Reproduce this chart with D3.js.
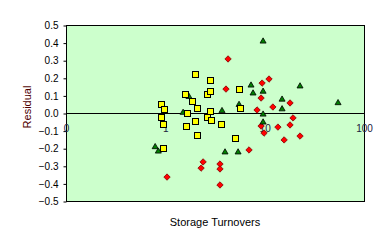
<!DOCTYPE html>
<html>
<head>
<meta charset="utf-8">
<script src="https://cdn.jsdelivr.net/npm/d3@7"></script>
<style>
  body { margin: 0; background: #fff; }
  text { font-family: "Liberation Sans", Arial, sans-serif; }
</style>
</head>
<body>
<svg width="390" height="248"></svg>
<script>
// values (x = storage turnovers, y = residual)
var squareX = [0.90, 0.97, 0.90, 0.95, 0.95, 1.58, 1.86, 1.99, 2.08, 1.65, 1.99, 1.62, 2.08, 2.82, 2.63, 2.82, 2.82, 2.63, 2.88, 3.64, 5.02, 5.52, 5.65];
var squareY = [0.05, 0.02, -0.02, -0.06, -0.20, 0.11, 0.07, 0.22, 0.03, 0.00, -0.045, -0.075, -0.125, 0.19, 0.11, 0.125, 0.01, -0.02, -0.04, -0.065, -0.14, 0.135, 0.03];

var triX = [0.79, 0.85, 1.51, 1.73, 3.72, 3.99, 5.40, 5.52, 7.29, 7.64, 9.64, 9.64, 9.64, 9.64, 14.97, 14.97, 22.7, 54.8];
var triY = [-0.19, -0.215, 0.005, 0.095, 0.015, -0.22, -0.22, 0.05, 0.16, 0.115, 0.41, 0.125, -0.005, -0.05, 0.08, 0.025, 0.155, 0.06];

var diaX = [4.28, 4.08, 9.42, 11.06, 9.20, 18.0, 12.1, 8.38, 19.3, 18.0, 13.6, 9.20, 9.86, 22.7, 15.7, 6.96, 2.40, 3.55, 2.29, 3.55, 1.04, 3.55];
var diaY = [0.307, 0.136, 0.17, 0.193, 0.085, 0.057, 0.034, 0.017, -0.028, -0.068, -0.08, -0.074, -0.114, -0.131, -0.153, -0.21, -0.278, -0.29, -0.313, -0.318, -0.364, -0.409];

var yTicks = [-0.5, -0.4, -0.3, -0.2, -0.1, 0, 0.1, 0.2, 0.3, 0.4, 0.5];
var xTicks = [0.1, 1, 10, 100];
var xTickLabels = ["0", "1", "10", "100"];

var svg = d3.select("svg");
var plotL = 66, plotR = 364, plotT = 25, plotB = 201;

var x = d3.scaleLog().domain([0.1, 100]).range([plotL, plotR]);
var y = d3.scaleLinear().domain([-0.5, 0.5]).range([plotB, plotT]);

// plot area
svg.append("rect")
  .attr("x", plotL + 0.5).attr("y", plotT + 0.5)
  .attr("width", plotR - plotL).attr("height", plotB - plotT)
  .attr("fill", "#ccffcc").attr("stroke", "#000").attr("stroke-width", 1);

// y axis
var yAxis = svg.append("g").attr("transform", "translate(" + (plotL + 0.5) + ",0.5)")
  .call(d3.axisLeft(y).tickValues(yTicks).tickSize(3).tickPadding(5).tickFormat(d3.format(".1f")));
yAxis.select(".domain").remove();
yAxis.selectAll("line").attr("stroke", "#000");
yAxis.selectAll("text").attr("font-size", 10).attr("fill", "#000")
  .style("font-family", "'Liberation Sans', Arial, sans-serif");

// zero line
svg.append("line")
  .attr("x1", plotL).attr("x2", plotR + 1)
  .attr("y1", Math.round(y(0)) + 0.5).attr("y2", Math.round(y(0)) + 0.5)
  .attr("stroke", "#000");

// x tick labels, sitting just under the zero line
var xAxis = svg.append("g").attr("transform", "translate(0," + y(0) + ")")
  .call(d3.axisBottom(x).tickValues(xTicks).tickSize(0).tickPadding(12)
    .tickFormat(function(d, i) { return xTickLabels[i]; }));
xAxis.select(".domain").remove();
xAxis.selectAll("text").attr("font-size", 10).attr("fill", "#202040")
  .style("font-family", "'Liberation Sans', Arial, sans-serif");

// axis titles
svg.append("text")
  .attr("x", (plotL + plotR) / 2).attr("y", 226)
  .attr("text-anchor", "middle").attr("font-size", 11).attr("fill", "#000")
  .text("Storage Turnovers");

svg.append("text")
  .attr("transform", "translate(31,107) rotate(-90)")
  .attr("text-anchor", "middle").attr("font-size", 11).attr("fill", "#500000")
  .text("Residual");

// markers
var dia = d3.symbol().type(d3.symbolDiamond2).size(26);
svg.append("g").selectAll("path").data(diaX).enter().append("path")
  .attr("d", dia)
  .attr("transform", function(d, i) { return "translate(" + x(d) + "," + y(diaY[i]) + ")"; })
  .attr("fill", "#ff0000").attr("stroke", "#800000").attr("stroke-width", 0.8);

var tri = d3.symbol().type(d3.symbolTriangle2).size(26);
svg.append("g").selectAll("path").data(triX).enter().append("path")
  .attr("d", tri)
  .attr("transform", function(d, i) { return "translate(" + x(d) + "," + (y(triY[i]) + 0.5) + ")"; })
  .attr("fill", "#008000").attr("stroke", "#000").attr("stroke-width", 0.8);

svg.append("g").selectAll("rect").data(squareX).enter().append("rect")
  .attr("x", function(d) { return Math.round(x(d)) - 3 + 0.5; })
  .attr("y", function(d, i) { return Math.round(y(squareY[i])) - 3 + 0.5; })
  .attr("width", 6).attr("height", 6)
  .attr("fill", "#ffff00").attr("stroke", "#000").attr("stroke-width", 1);
</script>
</body>
</html>
